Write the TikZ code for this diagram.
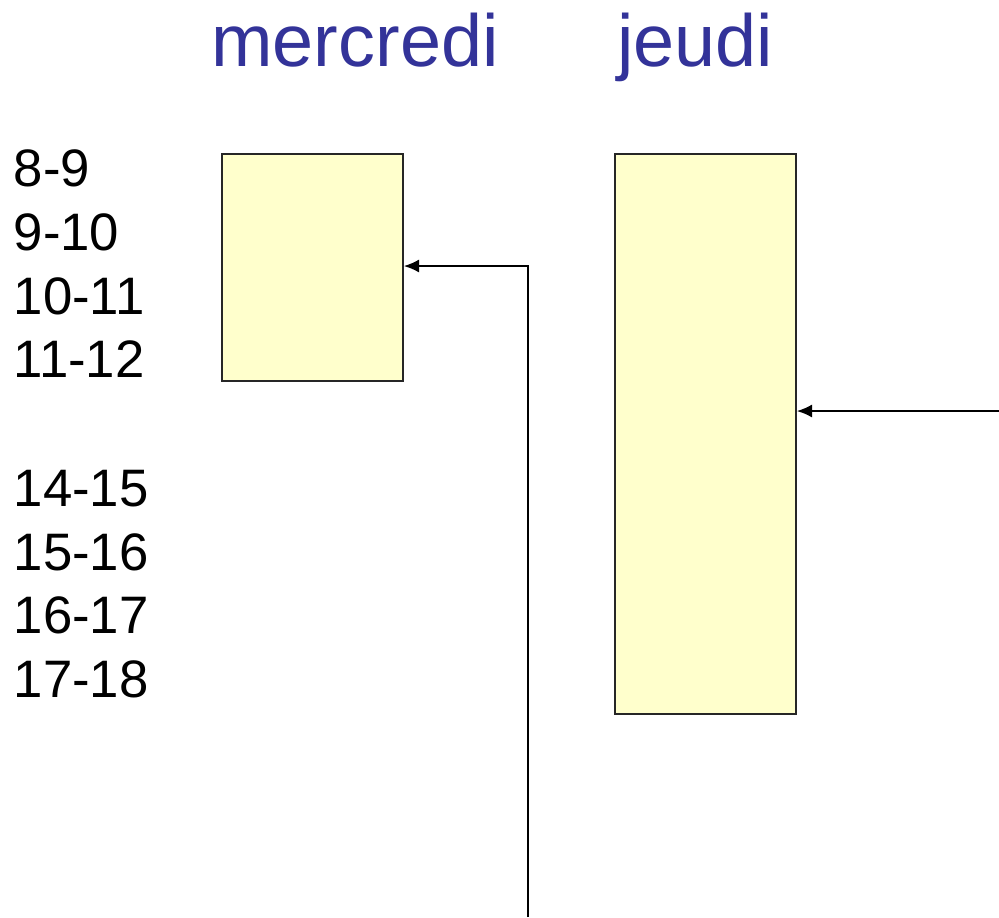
\documentclass[tikz,border=0pt]{standalone}
\usepackage{fontspec}
\setmainfont{Liberation Sans}
\usetikzlibrary{positioning, arrows.meta}
\definecolor{dayblue}{HTML}{333399}
\definecolor{slotfill}{HTML}{FFFFCC}
\tikzset{
    day/.style = {
        text = dayblue, inner sep = 0pt, anchor = base,
        font = \fontsize{21}{25}\selectfont
    },
    hour/.style = {
        inner sep = 0pt, anchor = base west,
        font = \fontsize{15}{18}\selectfont
    },
    slot/.style = {
        draw = black!85, fill = slotfill, line width = 0.5pt,
        minimum width = 1.81cm, anchor = north west, inner sep = 0pt
    },
    line/.style = {-{Latex[length=4.4pt, width=3.8pt]}, line width = 0.6pt}
}
\begin{document}
\begin{tikzpicture}
    \useasboundingbox (0,0) rectangle (9.99,-9.17);

    % Day headers
    \node[day] (wed) at (3.55,-0.66) {mercredi};
    \node[day] (thu) at (6.95,-0.66) {jeudi};

    % Hours
    \node[hour] (h8) at (0.13,-1.86) {8-9};
    \node[hour] (h9) at (0.13,-2.50) {9-10};
    \node[hour] (h10) at (0.13,-3.14) {10-11};
    \node[hour] (h11) at (0.13,-3.77) {11-12};
    \node[hour] (h14) at (0.13,-5.06) {14-15};
    \node[hour] (h15) at (0.13,-5.70) {15-16};
    \node[hour] (h16) at (0.13,-6.33) {16-17};
    \node[hour] (h17) at (0.13,-6.97) {17-18};

    % Slots
    \node[slot, minimum height = 2.27cm] (wedSlot) at (2.21,-1.53) {};
    \node[slot, minimum height = 5.60cm] (thuSlot) at (6.14,-1.53) {};

    % Arrows
    \coordinate (wedIn) at (5.28,-9.17);
    \coordinate (thuIn) at (9.99,-4.11);
    \draw[line] (wedIn) |- (wedSlot.east |- 0,-2.66);
    \draw[line] (thuIn) -- (thuSlot.east |- thuIn);

\end{tikzpicture}
\end{document}
